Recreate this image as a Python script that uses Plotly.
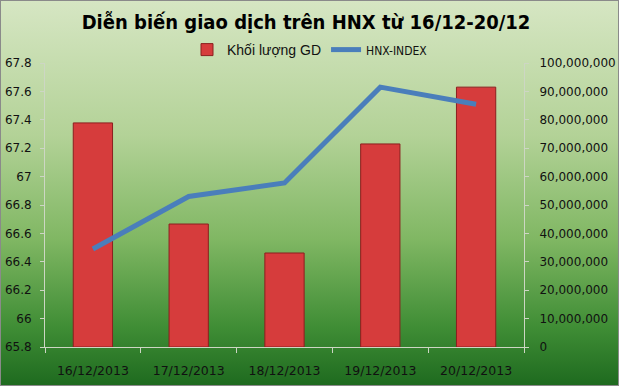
import base64
import plotly.graph_objects as go

categories = ["16/12/2013", "17/12/2013", "18/12/2013", "19/12/2013", "20/12/2013"]
volume = [78900000, 43300000, 33100000, 71500000, 91500000]
hnx_index = [66.49, 66.86, 66.955, 67.63, 67.51]

left_ticks = [65.8, 66.0, 66.2, 66.4, 66.6, 66.8, 67.0, 67.2, 67.4, 67.6, 67.8]
left_tick_text = ["65.8", "66", "66.2", "66.4", "66.6", "66.8", "67", "67.2", "67.4", "67.6", "67.8"]
right_ticks = list(range(0, 100000001, 10000000))
right_tick_text = ["0"] + [f"{v:,}" for v in right_ticks[1:]]

W, H = 619, 386
L, R, T, B = 45, 95, 63, 39
pw, ph = W - L - R, H - T - B

svg = f'''<svg xmlns="http://www.w3.org/2000/svg" width="{W}" height="{H}" viewBox="0 0 {W} {H}" preserveAspectRatio="none">
<defs><linearGradient id="g" x1="0" y1="0" x2="0" y2="1">
<stop offset="0" stop-color="#d6e6c3"/>
<stop offset="0.35" stop-color="#b3d297"/>
<stop offset="0.62" stop-color="#80b763"/>
<stop offset="0.85" stop-color="#3f8d35"/>
<stop offset="1" stop-color="#1e6a1f"/>
</linearGradient></defs>
<rect x="0.5" y="0.5" width="{W-1}" height="{H-1}" fill="url(#g)" stroke="#8a8a8a" stroke-width="1"/>
</svg>'''
src = "data:image/svg+xml;base64," + base64.b64encode(svg.encode()).decode()

font_fam = "DejaVu Sans Condensed, DejaVu Sans, sans-serif"
tick_font = "DejaVu Sans, sans-serif"

fig = go.Figure()
fig.add_trace(go.Bar(
    x=categories, y=volume, name="Khối lượng GD", yaxis="y",
    marker=dict(color="#d63c3c", line=dict(color="#8c1f1f", width=1)),
    width=0.41,
))
fig.add_trace(go.Scatter(
    x=categories, y=hnx_index,
    name="<span style='font-family:DejaVu Sans Condensed, DejaVu Sans;font-size:12px'>HNX-INDEX</span>",
    yaxis="y2", mode="lines",
    line=dict(color="#4a7ebb", width=5),
))

axis_col = "#cdd6c4"
fig.update_layout(
    width=W, height=H,
    margin=dict(l=L, r=R, t=T, b=B, autoexpand=False),
    paper_bgcolor="rgba(0,0,0,0)", plot_bgcolor="rgba(0,0,0,0)",
    title=dict(text="<b>Diễn biến giao dịch trên HNX từ 16/12-20/12</b>",
               x=(306 - L) / pw, xref="paper", xanchor="center", y=1 - 22 / H, yanchor="middle",
               font=dict(family=font_fam, size=20, color="#000000")),
    font=dict(family=tick_font, size=12, color="#111111"),
    showlegend=True,
    legend=dict(orientation="h", x=(310 - L) / pw, xref="paper", xanchor="center",
                y=1 + 13 / ph, yanchor="middle",
                font=dict(family="Liberation Sans, Arial, sans-serif", size=14, color="#111111"),
                bgcolor="rgba(0,0,0,0)", traceorder="normal"),
    xaxis=dict(type="category", showgrid=False, showline=True, linecolor=axis_col, linewidth=1,
               ticks="outside", tickson="boundaries", ticklen=5, tickcolor=axis_col,
               ticklabelstandoff=12, tickangle=0,
               tickfont=dict(size=12.5, color="#111111"), range=[-0.5, 4.5]),
    yaxis=dict(side="right", range=[0, 100000000], tickvals=right_ticks, ticktext=right_tick_text,
               showgrid=False, showline=True, linecolor=axis_col, linewidth=1,
               ticks="outside", ticklen=4, tickcolor=axis_col, zeroline=False,
               ticklabelstandoff=8,
               tickfont=dict(size=12, color="#111111")),
    yaxis2=dict(side="left", overlaying="y", range=[65.8, 67.8], tickvals=left_ticks, ticktext=left_tick_text,
                showgrid=False, showline=True, linecolor=axis_col, linewidth=1,
                ticks="outside", ticklen=4, tickcolor=axis_col, zeroline=False,
                ticklabelstandoff=6,
                tickfont=dict(size=12, color="#111111")),
    images=[dict(source=src, xref="paper", yref="paper", x=-L / pw, y=1 + T / ph,
                 sizex=W / pw, sizey=H / ph, sizing="stretch", layer="below",
                 xanchor="left", yanchor="top")],
)

fig.write_html("out.html")
